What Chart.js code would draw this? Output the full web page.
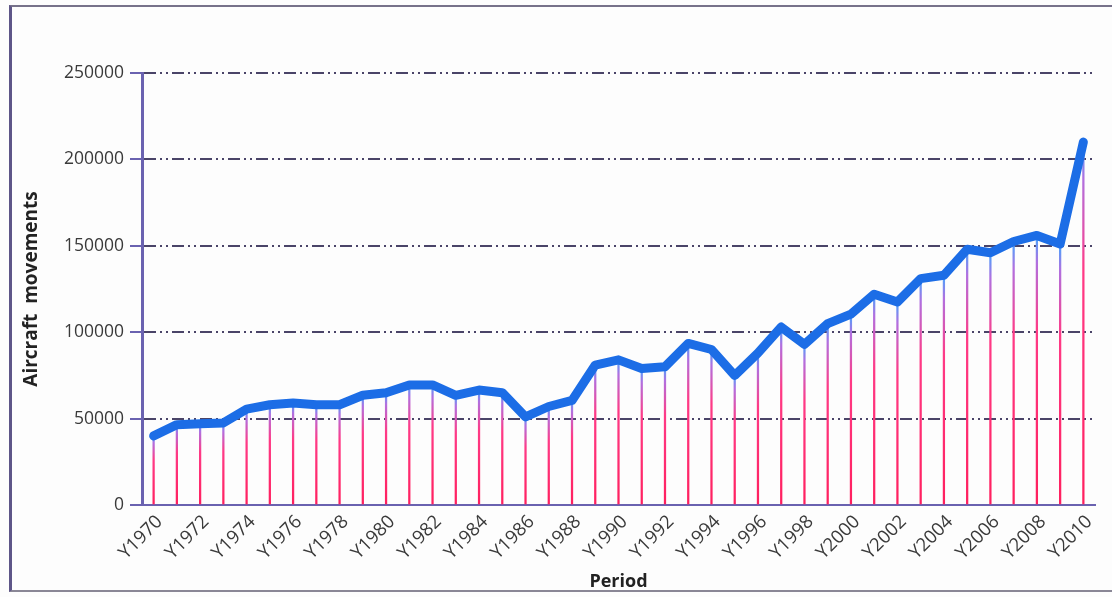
<!DOCTYPE html>
<html>
<head>
<meta charset="utf-8">
<script src="https://cdn.jsdelivr.net/npm/chart.js@4/dist/chart.umd.min.js"></script>
<style>
  html, body { margin: 0; padding: 0; background: #fdfdfd; }
  #wrap { position: relative; width: 1112px; height: 597px; }
  #frame {
    position: absolute; left: 9px; top: 5px; width: 1110px; height: 587px;
    border-left: 3px solid #5e5688; border-top: 2px solid #77728a; border-bottom: 2px solid #8a8796;
    box-sizing: border-box; pointer-events: none;
  }
  canvas { position: absolute; left: 0; top: 0; }
</style>
</head>
<body>
<div id="wrap">
  <canvas id="c" width="1112" height="597"></canvas>
  <div id="frame"></div>
</div>
<script>
// Yearly aircraft movements, 1970–2010
const years = [
  'Y1970','Y1971','Y1972','Y1973','Y1974','Y1975','Y1976','Y1977','Y1978','Y1979',
  'Y1980','Y1981','Y1982','Y1983','Y1984','Y1985','Y1986','Y1987','Y1988','Y1989',
  'Y1990','Y1991','Y1992','Y1993','Y1994','Y1995','Y1996','Y1997','Y1998','Y1999',
  'Y2000','Y2001','Y2002','Y2003','Y2004','Y2005','Y2006','Y2007','Y2008','Y2009',
  'Y2010'
];
const movements = [
  40000, 46500, 47000, 47500, 55500, 58000, 59000, 58000, 58000, 63500,
  65000, 69500, 69500, 63500, 66500, 65000, 51000, 57000, 60500, 81000,
  84000, 79000, 80000, 93500, 90000, 75000, 88000, 103000, 93000, 105000,
  110500, 122000, 117500, 131000, 133000, 148000, 146000, 152500, 156000, 151000,
  210000
];
const yTicks = [0, 50000, 100000, 150000, 200000, 250000];

// Drop line colour: pink at the base fading to blue at the data point
function dropGradient(ctx) {
  const chart = ctx.chart;
  const { chartArea } = chart;
  if (!chartArea) return '#ff2a6a';
  const y = chart.scales.y;
  const v = ctx.raw ?? 0;
  const top = y.getPixelForValue(v);
  const bottom = y.getPixelForValue(0);
  const g = chart.ctx.createLinearGradient(0, bottom, 0, top);
  g.addColorStop(0, '#ff1f5e');
  g.addColorStop(0.65, '#ff3a86');
  g.addColorStop(0.9, '#b070e0');
  g.addColorStop(1, '#40a8ff');
  return g;
}

const gridColor = '#4a4468';

new Chart(document.getElementById('c'), {
  data: {
    labels: years,
    datasets: [
      {
        type: 'line',
        data: movements,
        borderColor: '#1c6de6',
        borderWidth: 9,
        pointRadius: 0,
        tension: 0,
        borderJoinStyle: 'round',
        borderCapStyle: 'round',
        order: 0
      },
      {
        type: 'bar',
        data: movements,
        backgroundColor: dropGradient,
        barThickness: 1.6,
        order: 1
      }
    ]
  },
  options: {
    responsive: false,
    animation: false,
    layout: { padding: { left: 14, right: 17, top: 73, bottom: 4 } },
    plugins: { legend: { display: false }, tooltip: { enabled: false } },
    scales: {
      x: {
        offset: true,
        grid: { display: false, drawTicks: false },
        border: { display: true, color: '#6a62b0', width: 2 },
        ticks: {
          autoSkip: false,
          maxRotation: 45,
          minRotation: 45,
          padding: 6,
          labelOffset: 6,
          color: '#3a3a3a',
          font: { family: 'Open Sans', size: 18.5 },
          callback: function (val, i) { return i % 2 === 0 ? this.getLabelForValue(val) : ''; }
        },
        title: {
          display: true,
          text: 'Period',
          color: '#222',
          font: { family: 'Open Sans', size: 18, weight: 'bold' },
          padding: { top: -22, bottom: 0 }
        },
        afterFit: s => { s.height = 88; }
      },
      y: {
        min: 0,
        max: 250000,
        afterBuildTicks: s => { s.ticks = yTicks.map(v => ({ value: v })); },
        grid: {
          color: gridColor,
          lineWidth: 2,
          tickLength: 12,
          tickColor: '#6a62b0',
          tickBorderDash: []
        },
        // dash-dot-dot grid lines
        border: { display: true, color: '#6a62b0', width: 3, dash: [12, 4, 2, 4, 2, 4] },
        ticks: {
          padding: 6,
          color: '#3a3a3a',
          font: { family: 'Open Sans', size: 17.5 },
          callback: v => String(v)
        },
        title: {
          display: true,
          text: 'Aircraft  movements',
          color: '#222',
          font: { family: 'Open Sans', size: 19, weight: 'bold' },
          padding: { top: 6, bottom: 0 }
        },
        afterFit: s => { s.width = 128; }
      }
    }
  }
});
</script>
</body>
</html>
